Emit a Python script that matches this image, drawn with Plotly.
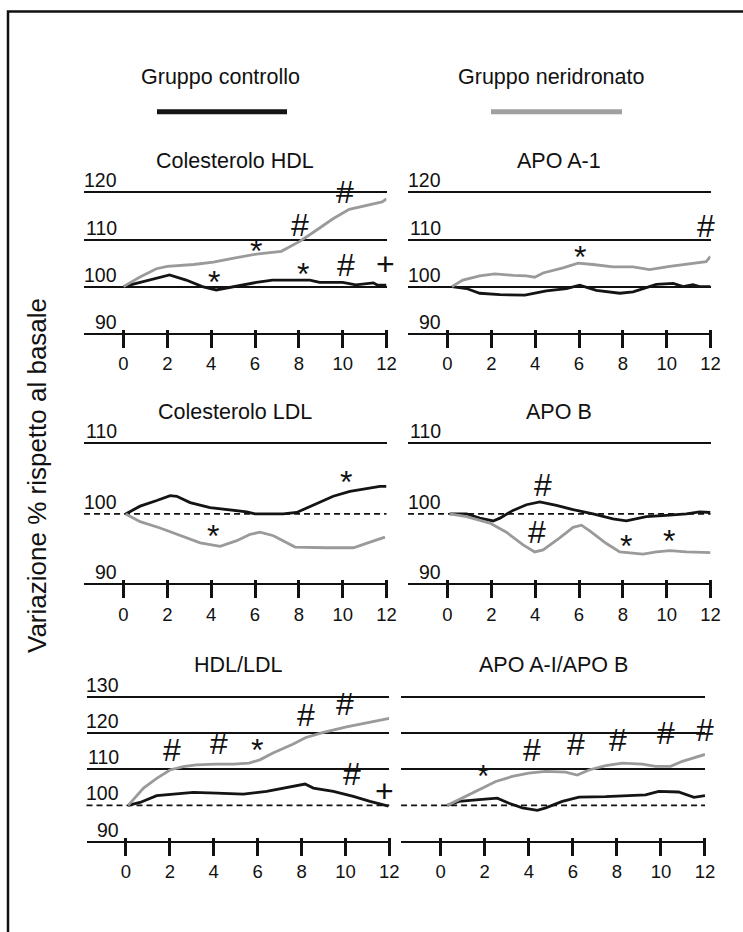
import plotly.graph_objects as go

W, H = 743, 932

# ---------------- data (weeks, % of baseline) ----------------
X_TICKS = [0, 2, 4, 6, 8, 10, 12]
X_TICK_TEXT = ["0", "2", "4", "6", "8", "10", "12"]
BASELINE = 100

SERIES_NAMES = ["Gruppo controllo", "Gruppo neridronato"]

# Colesterolo HDL
HDL_X_C = [0, 0.73, 1.5, 2.1, 2.86, 3.6, 4.23, 5.0, 6.06, 6.8, 7.7, 8.5, 8.95, 10.0, 10.6, 11.4, 11.6, 12.0]
HDL_Y_C = [100, 100.9, 101.8, 102.5, 101.4, 100, 99.3, 100, 100.9, 101.4, 101.4, 101.4, 100.9, 100.9, 100.4, 100.8, 100.3, 100.3]
HDL_X_N = [0, 0.73, 1.5, 2.0, 3.2, 4.1, 5.1, 6.06, 7.2, 8.04, 8.65, 9.56, 10.3, 11.2, 11.8, 12.0]
HDL_Y_N = [100, 102, 103.8, 104.3, 104.7, 105.2, 106.1, 106.9, 107.5, 109.6, 111.5, 114.4, 116.4, 117.3, 118, 118.6]

# APO A-1
APOA_X_C = [0.2, 0.87, 1.47, 2.39, 3.53, 4.51, 5.43, 6.03, 6.79, 7.86, 8.47, 9.07, 9.53, 10.3, 10.75, 11.2, 11.5, 12.0]
APOA_Y_C = [100, 99.6, 98.6, 98.3, 98.2, 99.1, 99.6, 100.3, 99.2, 98.6, 98.9, 99.8, 100.5, 100.7, 100, 100.4, 100, 100]
APOA_X_N = [0.2, 0.7, 1.47, 2.16, 3.0, 3.6, 3.98, 4.36, 5.27, 5.96, 6.64, 7.55, 8.47, 9.22, 10.14, 11.05, 11.8, 12.0]
APOA_Y_N = [100, 101.4, 102.3, 102.7, 102.4, 102.3, 102, 102.9, 104, 105, 104.7, 104.2, 104.2, 103.6, 104.3, 104.9, 105.3, 106.4]

# Colesterolo LDL
LDL_X_C = [0.1, 0.76, 1.52, 2.13, 2.43, 3.04, 3.95, 5.02, 5.62, 6.0, 7.29, 7.9, 8.66, 9.57, 10.33, 11.25, 11.7, 12.0]
LDL_Y_C = [100, 101.1, 101.9, 102.6, 102.5, 101.6, 100.9, 100.5, 100.3, 100, 100, 100.2, 101.2, 102.5, 103.2, 103.6, 103.9, 103.9]
LDL_X_N = [0.1, 0.76, 1.67, 2.58, 3.5, 4.41, 5.17, 5.78, 6.23, 6.84, 7.83, 9.27, 10.49, 11.25, 11.93]
LDL_Y_N = [100, 98.9, 98, 96.9, 95.9, 95.4, 96.2, 97.1, 97.4, 96.9, 95.3, 95.2, 95.2, 96, 96.7]

# APO B
APOB_X_C = [0.1, 0.87, 1.47, 2.08, 2.39, 2.99, 3.6, 4.21, 4.97, 5.73, 6.64, 7.55, 8.16, 9.07, 9.98, 10.9, 11.5, 12.0]
APOB_Y_C = [100, 100, 99.4, 99, 99.4, 100.5, 101.3, 101.7, 101.2, 100.6, 100, 99.3, 99, 99.6, 99.8, 100, 100.3, 100.2]
APOB_X_N = [0.1, 0.87, 1.93, 2.69, 3.45, 3.98, 4.36, 5.12, 5.73, 6.11, 6.49, 7.25, 7.86, 8.92, 9.53, 10.14, 10.9, 12.0]
APOB_Y_N = [100, 99.6, 98.7, 97.4, 95.6, 94.6, 94.9, 96.6, 98.1, 98.4, 97.6, 95.8, 94.6, 94.3, 94.6, 94.8, 94.6, 94.5]

# HDL/LDL
RAT_X_C = [0.1, 0.64, 1.4, 2.16, 3.07, 4.13, 5.35, 6.41, 7.32, 8.16, 8.54, 9.45, 10.36, 11.12, 11.96]
RAT_Y_C = [100, 100.8, 102.7, 103.1, 103.6, 103.4, 103.1, 103.9, 105, 105.9, 104.8, 103.9, 102.5, 101.1, 99.8]
RAT_X_N = [0.1, 0.8, 1.4, 2.0, 2.6, 3.2, 4.1, 4.9, 5.6, 6.1, 6.7, 7.6, 8.2, 9.0, 10.05, 11.3, 12.0]
RAT_Y_N = [100, 104.8, 107.5, 109.8, 110.7, 111.2, 111.4, 111.4, 111.7, 112.6, 114.5, 116.9, 118.8, 120.2, 121.7, 123.2, 124.1]

# APO A-I/APO B
APR_X_C = [0.3, 0.83, 1.74, 2.57, 3.1, 3.71, 4.39, 4.77, 5.52, 6.28, 7.49, 8.7, 9.3, 9.9, 10.8, 11.5, 12.0]
APR_Y_C = [100, 101.1, 101.6, 102.0, 100.6, 99.3, 98.6, 99.3, 101.1, 102.3, 102.4, 102.7, 102.9, 103.9, 103.7, 102.2, 102.7]
APR_X_N = [0.3, 1.13, 1.89, 2.5, 3.25, 4.0, 4.77, 5.67, 6.2, 6.73, 7.49, 8.25, 9.15, 9.76, 10.44, 10.97, 12.0]
APR_Y_N = [100, 102.5, 104.8, 106.6, 108.0, 108.9, 109.4, 109.2, 108.4, 109.8, 111.0, 111.7, 111.4, 110.8, 110.8, 112.2, 114.1]

# significance marks: (symbol, week, level)
HDL_MARKS = [("#", 11.92, 124.9), ("#", 10.09, 120.1), ("#", 8.07, 113.1), ("*", 6.06, 109.0),
             ("*", 4.11, 102.5), ("*", 8.19, 104.1), ("#", 10.14, 104.6), ("+", 11.95, 104.9)]
APOA_MARKS = [("*", 6.03, 107.8), ("#", 11.8, 112.9)]
LDL_MARKS = [("*", 4.1, 97.8), ("*", 10.14, 105.5)]
APOB_MARKS = [("#", 4.36, 104.1), ("#", 4.09, 97.4), ("*", 8.13, 96.4), ("*", 10.1, 97.2)]
RAT_MARKS = [("#", 2.11, 115.3), ("#", 4.25, 117.3), ("*", 5.95, 117.4), ("#", 8.2, 125.0),
             ("#", 9.98, 128.0), ("#", 11.65, 131.2), ("#", 10.28, 108.8), ("+", 11.8, 104.1)]
APR_MARKS = [("*", 1.92, 110.2), ("#", 4.13, 115.3), ("#", 6.16, 116.9), ("#", 8.06, 118.2),
             ("#", 10.21, 119.9), ("#", 12.0, 120.8)]

ROW1_LINES = [90, 100, 110, 120]
ROW2_LINES = [90, 110]
ROW3_LINES = [90, 110, 120, 130]
ROW1_LABELS = [90, 100, 110, 120]
ROW2_LABELS = [90, 100, 110]
ROW3_LABELS = [90, 100, 110, 120, 130]

PANELS = [
    dict(title="Colesterolo HDL", xc=HDL_X_C, yc=HDL_Y_C, xn=HDL_X_N, yn=HDL_Y_N, lines=ROW1_LINES, labels=ROW1_LABELS, dashed=False, marks=HDL_MARKS, row=0, col=0),
    dict(title="APO A-1", xc=APOA_X_C, yc=APOA_Y_C, xn=APOA_X_N, yn=APOA_Y_N, lines=ROW1_LINES, labels=ROW1_LABELS, dashed=False, marks=APOA_MARKS, row=0, col=1),
    dict(title="Colesterolo LDL", xc=LDL_X_C, yc=LDL_Y_C, xn=LDL_X_N, yn=LDL_Y_N, lines=ROW2_LINES, labels=ROW2_LABELS, dashed=True, marks=LDL_MARKS, row=1, col=0),
    dict(title="APO B", xc=APOB_X_C, yc=APOB_Y_C, xn=APOB_X_N, yn=APOB_Y_N, lines=ROW2_LINES, labels=ROW2_LABELS, dashed=True, marks=APOB_MARKS, row=1, col=1),
    dict(title="HDL/LDL", xc=RAT_X_C, yc=RAT_Y_C, xn=RAT_X_N, yn=RAT_Y_N, lines=ROW3_LINES, labels=ROW3_LABELS, dashed=True, marks=RAT_MARKS, row=2, col=0),
    dict(title="APO A-I/APO B", xc=APR_X_C, yc=APR_Y_C, xn=APR_X_N, yn=APR_Y_N, lines=ROW3_LINES, labels=[], dashed=True, marks=APR_MARKS, row=2, col=1),
]

# ---------------- styles / geometry (pixels) ----------------
C_CTRL = "#141414"
C_NER = "#9a9a9a"
LINE_W = 2.8
TXT_FONT = "Liberation Sans"
NUM_FONT = "Liberation Sans"
X_EXT = 1.8  # left extension of the reference lines, in weeks
W_EFF = 733.0  # effective horizontal paper width observed in the rendered page

# x pixel of tick 0 / tick 12 per row & column
COL_PX = [
    [(123.5, 386.5), (447.5, 710.5)],
    [(123.5, 386.5), (447.5, 710.5)],
    [(126.0, 389.3), (440.7, 705.0)],
]
# (pixel of 90, top value, pixel of top value, title pixel y)
ROW_PX = [
    (333.8, 120, 192.4, 161),
    (584.4, 110, 443.4, 412),
    (841.5, 130, 697.0, 665),
]
PAD = 0.6

def px(x):
    return x / W_EFF

def py(y):
    return 1 - y / H

MARK_SHIFT = {"#": 0, "*": -7, "+": 0}

fig = go.Figure()
layout = dict(
    width=W, height=H, autosize=False, margin=dict(l=0, r=0, t=0, b=0, pad=0),
    paper_bgcolor="white", plot_bgcolor="white", showlegend=False,
)
annotations = []
shapes = []

for i, p in enumerate(PANELS):
    n = i + 1
    sfx = "" if n == 1 else str(n)
    r, c = p["row"], p["col"]
    t0, t12 = COL_PX[r][c]
    ppu = (t12 - t0) / 12.0
    left = t0 - X_EXT * ppu
    p90, vtop, ptop, ty = ROW_PX[r]
    ypu = (p90 - ptop) / (vtop - 90)
    rmin, rmax = 90 - PAD, vtop + PAD
    bot = p90 + PAD * ypu
    top = ptop - PAD * ypu

    layout["xaxis" + sfx] = dict(
        domain=[px(left), px(t12)], range=[-X_EXT, 12.0],
        anchor="free", position=py(p90 - 5),
        showline=False, showgrid=False, zeroline=False,
        tickmode="array", tickvals=X_TICKS, ticktext=X_TICK_TEXT,
        ticks="outside", ticklen=18, tickwidth=3, tickcolor="#111",
        tickfont=dict(family=NUM_FONT, size=18.5, color="#111"),
        ticklabelstandoff=0, fixedrange=True,
    )
    layout["yaxis" + sfx] = dict(
        domain=[py(bot), py(top)], range=[rmin, rmax], anchor="x" + sfx,
        showline=False, zeroline=False, showticklabels=False, ticks="",
        tickmode="array", tickvals=p["lines"], showgrid=True,
        gridcolor="#111", gridwidth=1.7, fixedrange=True,
    )
    xa, ya = "x" + sfx, "y" + sfx

    fig.add_trace(go.Scatter(x=p["xc"], y=p["yc"], mode="lines", name=SERIES_NAMES[0],
                             line=dict(color=C_CTRL, width=LINE_W), xaxis=xa, yaxis=ya,
                             hoverinfo="skip"))
    fig.add_trace(go.Scatter(x=p["xn"], y=p["yn"], mode="lines", name=SERIES_NAMES[1],
                             line=dict(color=C_NER, width=LINE_W), xaxis=xa, yaxis=ya,
                             hoverinfo="skip"))

    if p["dashed"]:
        shapes.append(dict(type="line", xref=xa + " domain", x0=0, x1=1, yref=ya,
                           y0=BASELINE, y1=BASELINE, layer="below",
                           line=dict(color="#111", width=1.6, dash="6px,4px")))

    annotations.append(dict(text=p["title"], xref="paper", yref="paper",
                            x=px((left + t12) / 2), y=py(ty), showarrow=False,
                            xanchor="center", yanchor="middle",
                            font=dict(family=TXT_FONT, size=21.5, color="#111")))
    for v in p["labels"]:
        annotations.append(dict(text=str(v), xref=xa, yref=ya, x=0, y=v, showarrow=False,
                                xanchor="right", yanchor="bottom", xshift=-5, yshift=-1,
                                font=dict(family=TXT_FONT, size=19.5, color="#111")))
    for sym, xw, lv in p["marks"]:
        annotations.append(dict(text=sym, xref=xa, yref=ya, x=xw, y=lv, showarrow=False,
                                xanchor="center", yanchor="middle", yshift=MARK_SHIFT[sym],
                                font=dict(family=NUM_FONT, size=32, color="#111")))

# legend (manual)
LEGEND = [(SERIES_NAMES[0], C_CTRL, 220, 157, 287), (SERIES_NAMES[1], "#a0a0a0", 551, 491, 622)]
for name, col, cx, x0, x1 in LEGEND:
    annotations.append(dict(text=name, xref="paper", yref="paper", x=px(cx), y=py(77),
                            showarrow=False, xanchor="center", yanchor="middle",
                            font=dict(family=TXT_FONT, size=21.5, color="#111")))
    shapes.append(dict(type="line", xref="paper", yref="paper", x0=px(x0), x1=px(x1),
                       y0=py(111.7), y1=py(111.7), line=dict(color=col, width=5)))

# y-axis title
annotations.append(dict(text="Variazione % rispetto al basale", xref="paper", yref="paper",
                        x=px(37), y=py(476), textangle=-90, showarrow=False,
                        xanchor="center", yanchor="middle",
                        font=dict(family=TXT_FONT, size=26, color="#111")))

# frame
shapes.append(dict(type="rect", xref="paper", yref="paper", x0=px(8), x1=1.1,
                   y0=-0.1, y1=py(11.5), line=dict(color="#111", width=2.5)))

layout["annotations"] = annotations
layout["shapes"] = shapes
fig.update_layout(**layout)
fig.write_html(
    "out.html",
    config={"responsive": False, "displayModeBar": False},
    post_script="document.documentElement.style.overflow='hidden';document.body.style.margin='0';document.body.style.overflow='hidden';",
)
